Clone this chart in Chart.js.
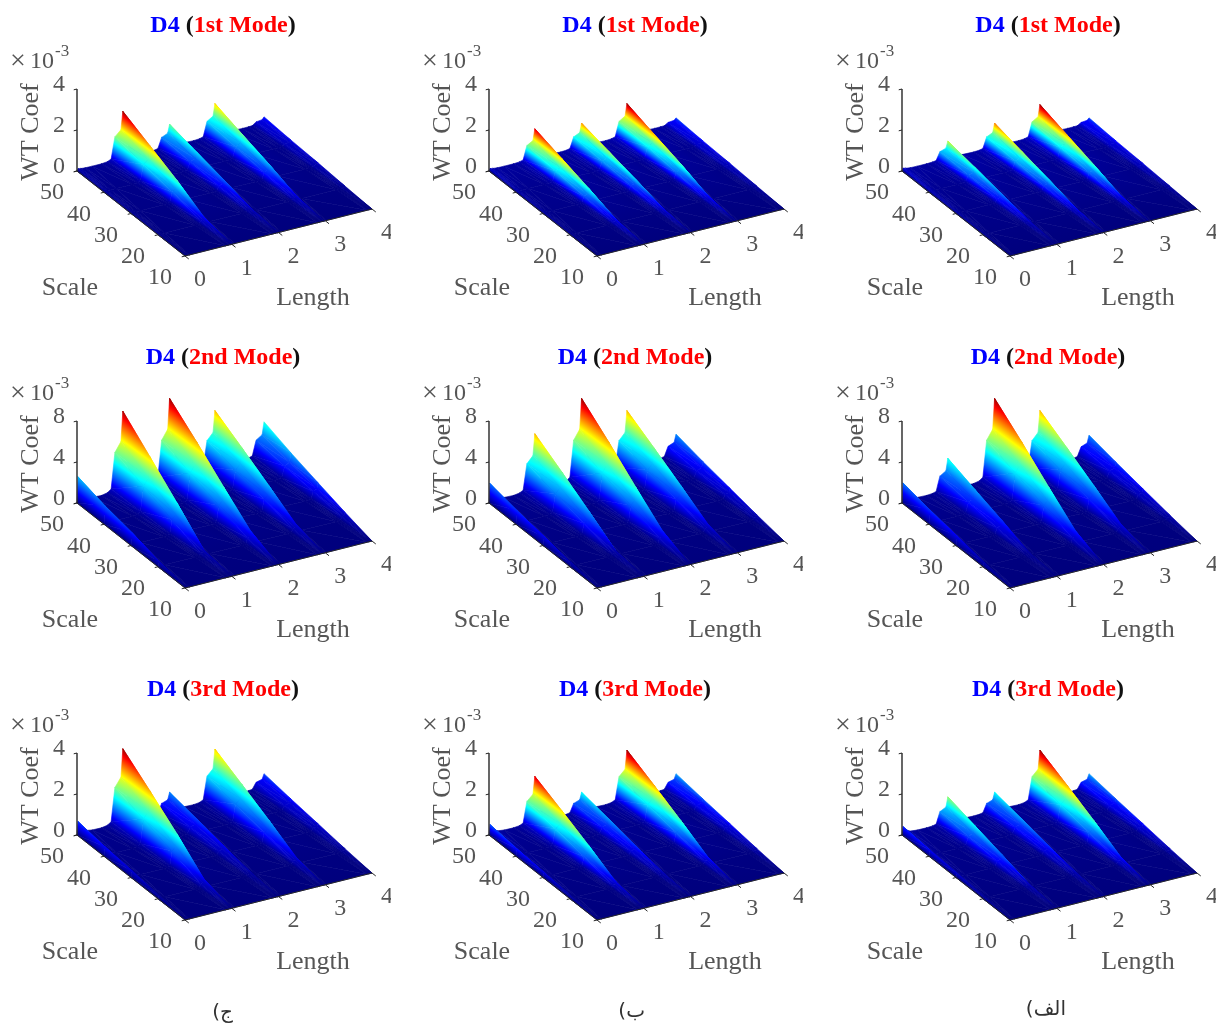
<!DOCTYPE html>
<html>
<head>
<meta charset="utf-8">
<script src="https://cdn.jsdelivr.net/npm/chart.js@4/dist/chart.umd.min.js"></script>
<style>
  html, body { margin: 0; padding: 0; background: #fff; width: 1216px; height: 1025px; overflow: hidden; }
  canvas { position: absolute; filter: blur(0.6px); }
  .tag { position: absolute; font-family: "DejaVu Sans", sans-serif; font-size: 20px; color: #333; direction: rtl; white-space: nowrap; filter: blur(0.3px); }
</style>
</head>
<body>
<script>
// grid axes
var scaleRows = [50, 40, 30, 20, 10];
var lengthTicks = [0, 1, 2, 3, 4];
var scaleTicks = [10, 20, 30, 40, 50];
var ridgeLengths = [0.02, 0.98, 1.98, 2.95, 4];

var profileOffsets = [-0.46, -0.33, -0.25, -0.17, -0.04, 0, 0.06, 0.15, 0.3];
var profileShares = [0, 0.015, 0.05, 0.5, 0.62, 1, 0.5, 0.12, 0.02];
var widthByRow = [1, 0.8, 0.6, 0.4, 0.25];

// ridge height (x 10^-3), rows are scale 50,40,30,20, columns the ridges at length 0..4
var mode1_left = [[0.05, 2.3, 1.1, 1.55, 0.3], [0.04, 1.68, 0.8, 1.12, 0.22], [0.03, 1.04, 0.5, 0.7, 0.16], [0.02, 0.3, 0.16, 0.22, 0.07]];
var mode1_mid = [[0.06, 1.45, 1.15, 1.55, 0.25], [0.04, 1.05, 0.84, 1.12, 0.18], [0.03, 0.64, 0.52, 0.7, 0.13], [0.02, 0.18, 0.16, 0.21, 0.06]];
var mode1_right = [[0.08, 0.85, 1.15, 1.5, 0.25], [0.06, 0.62, 0.84, 1.08, 0.18], [0.04, 0.37, 0.52, 0.66, 0.13], [0.02, 0.11, 0.16, 0.2, 0.06]];
var mode2_left = [[2.4, 7.7, 7.8, 5.5, 3.2], [1.7, 5.4, 5.7, 4.0, 2.3], [1.2, 3.0, 3.4, 2.4, 1.5], [0.5, 0.5, 1.2, 0.75, 0.7]];
var mode2_mid = [[1.75, 5.5, 7.8, 5.5, 2.0], [1.25, 3.9, 5.7, 4.0, 1.45], [0.85, 2.2, 3.4, 2.4, 0.95], [0.35, 0.4, 1.2, 0.75, 0.45]];
var mode2_right = [[1.8, 3.1, 7.8, 5.5, 1.9], [1.3, 2.2, 5.7, 4.0, 1.4], [0.88, 1.3, 3.4, 2.4, 0.9], [0.36, 0.25, 1.2, 0.75, 0.42]];
var mode3_left = [[0.6, 3.6, 0.9, 2.45, 0.65], [0.42, 2.6, 0.66, 1.78, 0.47], [0.3, 1.55, 0.4, 1.08, 0.31], [0.12, 0.4, 0.14, 0.34, 0.14]];
var mode3_mid = [[0.45, 2.25, 0.9, 2.4, 0.65], [0.32, 1.63, 0.66, 1.75, 0.47], [0.22, 0.97, 0.4, 1.06, 0.31], [0.09, 0.26, 0.14, 0.33, 0.14]];
var mode3_right = [[0.35, 1.25, 0.9, 2.4, 0.65], [0.25, 0.9, 0.66, 1.75, 0.47], [0.17, 0.54, 0.4, 1.06, 0.31], [0.07, 0.15, 0.14, 0.33, 0.14]];

// valley level per scale row
var floorMode1 = [0.05, 0.03, 0.02, 0.01, 0];
var floorMode2 = [0.14, 0.07, 0.04, 0.02, 0];
var floorMode3 = [0.05, 0.03, 0.02, 0.01, 0];

var zTicksMode1 = [0, 2, 4];
var zTicksMode2 = [0, 4, 8];
var zTicksMode3 = [0, 2, 4];

var modeNames = ["1st Mode", "2nd Mode", "3rd Mode"];
var columnTags = ["ج)", "ب)", "الف)"];

var rows = [
  { name: modeNames[0], floor: floorMode1, zTicks: zTicksMode1, tables: [mode1_left, mode1_mid, mode1_right] },
  { name: modeNames[1], floor: floorMode2, zTicks: zTicksMode2, tables: [mode2_left, mode2_mid, mode2_right] },
  { name: modeNames[2], floor: floorMode3, zTicks: zTicksMode3, tables: [mode3_left, mode3_mid, mode3_right] }
];

var panelW = 391, panelH = 332;
var colLeft = [0, 412, 825];
var rowTop = [0, 332, 664];

// oblique view of the 3d box, in panel pixels
function project(len, scale, z, zMax) {
  return {
    x: 77 + 46.75 * len + 2.7 * (50 - scale),
    y: 171 - 11.75 * len + 2.125 * (50 - scale) - z * 82 / zMax
  };
}

var jetStops = [[0, 0, 0, 125], [0.125, 0, 0, 255], [0.375, 0, 255, 255], [0.625, 255, 255, 0], [0.875, 255, 0, 0], [1, 128, 0, 0]];
function jet(t) {
  t = Math.max(0, Math.min(1, t));
  for (var i = 1; i < jetStops.length; i++) {
    if (t <= jetStops[i][0]) {
      var a = jetStops[i - 1], b = jetStops[i];
      var f = (t - a[0]) / (b[0] - a[0]);
      return "rgb(" + Math.round(a[1] + (b[1] - a[1]) * f) + "," + Math.round(a[2] + (b[2] - a[2]) * f) + "," + Math.round(a[3] + (b[3] - a[3]) * f) + ")";
    }
  }
  return "rgb(128,0,0)";
}

// vertices of the surface: one column per profile point of every ridge
function buildMesh(table, floor, zMax) {
  var verts = [];
  var nCols = 0;
  for (var r = 0; r < scaleRows.length; r++) {
    nCols = 1;
    // foot of the wall at length 0
    var first = project(0, scaleRows[r], 0, zMax);
    verts.push({ x: first.x, y: first.y, z: 0 });
    for (var k = 0; k < ridgeLengths.length; k++) {
      for (var p = 0; p < profileOffsets.length; p++) {
        if (k === 0 && profileOffsets[p] < 0) continue;
        if (k === ridgeLengths.length - 1 && profileOffsets[p] > 0) continue;
        var len = ridgeLengths[k] + profileOffsets[p] * widthByRow[r];
        var h = r < table.length ? table[r][k] : 0;
        var z = floor[r] + h * profileShares[p];
        var pt = project(len, scaleRows[r], z, zMax);
        verts.push({ x: pt.x, y: pt.y, z: z });
        nCols++;
      }
    }
  }
  return { verts: verts, nCols: nCols };
}

// z is linear over a triangle, so a linear gradient gives the exact jet shading
function fillTriangle(ctx, a, b, c, zMax) {
  var dx1 = b.x - a.x, dy1 = b.y - a.y, dz1 = b.z - a.z;
  var dx2 = c.x - a.x, dy2 = c.y - a.y, dz2 = c.z - a.z;
  var det = dx1 * dy2 - dx2 * dy1;
  var lo = Math.min(a.z, b.z, c.z), hi = Math.max(a.z, b.z, c.z);
  var style;
  if (Math.abs(det) < 0.01 || hi - lo < 0.001) {
    style = jet((lo + hi) / 2 / zMax);
  } else {
    var gx = (dz1 * dy2 - dz2 * dy1) / det;
    var gy = (dx1 * dz2 - dx2 * dz1) / det;
    var g2 = gx * gx + gy * gy;
    var s0 = (lo - a.z) / g2, s1 = (hi - a.z) / g2;
    var grad = ctx.createLinearGradient(a.x + gx * s0, a.y + gy * s0, a.x + gx * s1, a.y + gy * s1);
    grad.addColorStop(0, jet(lo / zMax));
    for (var i = 0; i < jetStops.length; i++) {
      var zs = jetStops[i][0] * zMax;
      if (zs > lo && zs < hi) grad.addColorStop((zs - lo) / (hi - lo), jet(jetStops[i][0]));
    }
    grad.addColorStop(1, jet(hi / zMax));
    style = grad;
  }
  ctx.fillStyle = style;
  ctx.strokeStyle = style;
  ctx.lineWidth = 0.6;
  ctx.beginPath();
  ctx.moveTo(a.x, a.y);
  ctx.lineTo(b.x, b.y);
  ctx.lineTo(c.x, c.y);
  ctx.closePath();
  ctx.fill();
  ctx.stroke();
}

var surfacePlugin = {
  id: "surface",
  beforeDatasetsDraw: function(chart) {
    var cfg = chart.config.options.plugins.surface;
    var els = chart.getDatasetMeta(0).data;
    var raw = chart.data.datasets[0].data;
    var n = cfg.nCols;
    var ctx = chart.ctx;
    function v(r, c) {
      var i = r * n + c;
      return { x: els[i].x, y: els[i].y, z: raw[i].z };
    }
    ctx.save();
    // far to near: high length first, scale 50 first
    for (var c = n - 2; c >= 0; c--) {
      for (var r = 0; r < scaleRows.length - 1; r++) {
        var p00 = v(r, c), p01 = v(r, c + 1), p10 = v(r + 1, c), p11 = v(r + 1, c + 1);
        fillTriangle(ctx, p01, p11, p00, cfg.zMax);
        fillTriangle(ctx, p00, p11, p10, cfg.zMax);
      }
    }
    ctx.restore();
  }
};

var textPlugin = {
  id: "boxText",
  afterDraw: function(chart) {
    var cfg = chart.config.options.plugins.boxText;
    var ctx = chart.ctx;
    var sx = chart.scales.x, sy = chart.scales.y;
    function px(pt, ox, oy) {
      return { x: sx.getPixelForValue(pt.x) + ox, y: sy.getPixelForValue(pt.y) + oy };
    }
    function put(text, p) { ctx.fillText(text, p.x, p.y); }
    ctx.save();
    ctx.textBaseline = "middle";
    ctx.textAlign = "center";
    ctx.fillStyle = "#555";
    ctx.font = "24px 'Liberation Serif'";
    lengthTicks.forEach(function(t) { put(String(t), px(project(t, 10, 0, cfg.zMaxAxis), 15, 24)); });
    scaleTicks.forEach(function(t) { put(String(t), px(project(0, t, 0, cfg.zMaxAxis), -25, 22)); });
    cfg.zTicks.forEach(function(t) { put(String(t), px(project(0, 50, t, cfg.zMaxAxis), -18, -4)); });

    ctx.font = "26px 'Liberation Serif'";
    put("Scale", { x: sx.getPixelForValue(70), y: sy.getPixelForValue(288) });
    put("Length", { x: sx.getPixelForValue(313), y: sy.getPixelForValue(298) });
    ctx.save();
    ctx.translate(sx.getPixelForValue(31), sy.getPixelForValue(132));
    ctx.rotate(-Math.PI / 2);
    ctx.fillText("WT Coef", 0, 0);
    ctx.restore();

    // axis multiplier
    ctx.textAlign = "left";
    ctx.font = "28px 'Liberation Serif'";
    ctx.fillText("×", sx.getPixelForValue(10), sy.getPixelForValue(62));
    ctx.font = "24px 'Liberation Serif'";
    ctx.fillText("10", sx.getPixelForValue(30), sy.getPixelForValue(62));
    ctx.font = "17px 'Liberation Serif'";
    ctx.fillText("-3", sx.getPixelForValue(55), sy.getPixelForValue(52));

    // title with coloured runs
    var runs = [["D4", "#0000ff"], [" (", "#111"], [cfg.modeName, "#ff0000"], [")", "#111"]];
    ctx.font = "bold 24px 'Liberation Serif'";
    var total = 0;
    runs.forEach(function(r) { total += ctx.measureText(r[0]).width; });
    var x = sx.getPixelForValue(223) - total / 2;
    runs.forEach(function(r) {
      ctx.fillStyle = r[1];
      ctx.fillText(r[0], x, sy.getPixelForValue(26));
      x += ctx.measureText(r[0]).width;
    });
    ctx.restore();
  }
};

function axisSet(zTicks) {
  var zMax = zTicks[zTicks.length - 1];
  var lines = [];
  function seg(a, b, w) {
    lines.push({
      type: "scatter", showLine: true, data: [a, b], borderColor: "#262626", borderWidth: w,
      pointRadius: 0, fill: false, clip: false
    });
  }
  seg(project(0, 50, 0, zMax), project(0, 50, zMax, zMax), 1.4);
  seg(project(0, 50, 0, zMax), project(0, 10, 0, zMax), 1);
  seg(project(0, 10, 0, zMax), project(4, 10, 0, zMax), 1);
  lengthTicks.forEach(function(t) { seg(project(t, 10, 0, zMax), project(t, 8.6, 0, zMax), 1); });
  scaleTicks.forEach(function(t) { seg(project(0, t, 0, zMax), project(-0.07, t, 0, zMax), 1); });
  zTicks.forEach(function(t) { seg(project(0, 50, t, zMax), project(-0.07, 50, t, zMax), 1); });
  return lines;
}

function addPanel(rowIdx, colIdx) {
  var row = rows[rowIdx];
  var table = row.tables[colIdx];
  var zMaxAxis = row.zTicks[row.zTicks.length - 1];
  var mesh = buildMesh(table, row.floor, zMaxAxis);
  var cMax = 0;
  table.forEach(function(t) { t.forEach(function(h) { cMax = Math.max(cMax, h); }); });
  cMax = (cMax + row.floor[0]) * 1.03;

  var canvas = document.createElement("canvas");
  canvas.width = panelW;
  canvas.height = panelH;
  canvas.style.left = colLeft[colIdx] + "px";
  canvas.style.top = rowTop[rowIdx] + "px";
  canvas.style.width = panelW + "px";
  canvas.style.height = panelH + "px";
  document.body.appendChild(canvas);

  var datasets = [{ type: "scatter", data: mesh.verts, pointRadius: 0, showLine: false, clip: false }].concat(axisSet(row.zTicks));

  new Chart(canvas, {
    type: "scatter",
    data: { datasets: datasets },
    plugins: [surfacePlugin, textPlugin],
    options: {
      responsive: false,
      animation: false,
      events: [],
      layout: { padding: 0 },
      scales: {
        x: { type: "linear", min: 0, max: panelW, display: false },
        y: { type: "linear", min: 0, max: panelH, reverse: true, display: false }
      },
      plugins: {
        legend: { display: false },
        tooltip: { enabled: false },
        surface: { nCols: mesh.nCols, zMax: cMax },
        boxText: { zMaxAxis: zMaxAxis, zTicks: row.zTicks, modeName: row.name }
      }
    }
  });
}

for (var r = 0; r < rows.length; r++) {
  for (var c = 0; c < colLeft.length; c++) addPanel(r, c);
}

var tagX = [233, 645, 1066];
var tagY = [999, 998, 996];
columnTags.forEach(function(t, i) {
  var d = document.createElement("div");
  d.className = "tag";
  d.textContent = t;
  d.style.left = (tagX[i] - 60) + "px";
  d.style.width = "60px";
  d.style.top = tagY[i] + "px";
  document.body.appendChild(d);
});
</script>
</body>
</html>
